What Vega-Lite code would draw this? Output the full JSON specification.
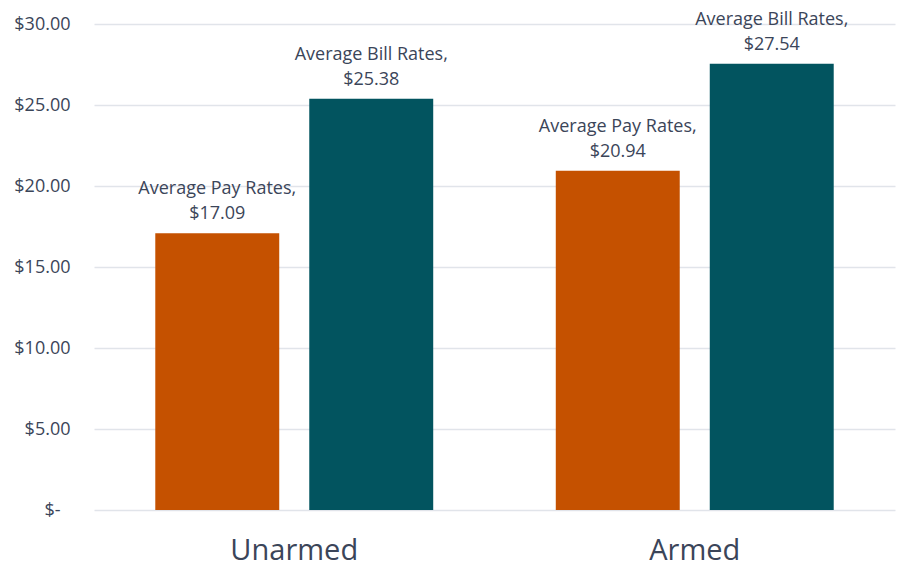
{
  "$schema": "https://vega.github.io/schema/vega-lite/v6.json",
  "autosize": {"type": "none"},
  "width": 801,
  "height": 486,
  "padding": {"left": 94, "top": 24, "right": 4, "bottom": 57},
  "background": "white",
  "config": {
    "font": "Open Sans",
    "view": {"stroke": null}
  },
  "data": {
    "values": [
      {"group": "Unarmed", "series": "Average Pay Rates", "value": 17.09},
      {"group": "Unarmed", "series": "Average Bill Rates", "value": 25.38},
      {"group": "Armed", "series": "Average Pay Rates", "value": 20.94},
      {"group": "Armed", "series": "Average Bill Rates", "value": 27.54}
    ]
  },
  "transform": [
    {"calculate": "[datum.series + ',', '$' + format(datum.value, '.2f')]", "as": "label"}
  ],
  "encoding": {
    "x": {
      "field": "group",
      "type": "nominal",
      "sort": ["Unarmed", "Armed"],
      "scale": {"paddingInner": 0, "paddingOuter": 0},
      "axis": {
        "title": null,
        "labelAngle": 0,
        "domain": false,
        "ticks": false,
        "labelFontSize": 29,
        "labelColor": "#3b4559",
        "labelPadding": 26
      }
    },
    "xOffset": {
      "field": "series",
      "type": "nominal",
      "sort": ["Average Pay Rates", "Average Bill Rates"],
      "scale": {"paddingInner": 0.195, "paddingOuter": 0.398}
    },
    "y": {
      "field": "value",
      "type": "quantitative",
      "scale": {"domain": [0, 30], "nice": false},
      "axis": {
        "title": null,
        "values": [0, 5, 10, 15, 20, 25, 30],
        "labelExpr": "datum.value == 0 ? '$-' : '$' + format(datum.value, '.2f')",
        "domain": false,
        "ticks": false,
        "grid": true,
        "gridColor": "#e1e4ea",
        "gridWidth": 1.3,
        "labelFontSize": 18,
        "labelColor": "#3b4559",
        "labelPadding": {"condition": {"test": "datum.value == 0", "value": 34}, "value": 24}
      }
    }
  },
  "layer": [
    {
      "mark": {"type": "bar"},
      "encoding": {
        "color": {
          "field": "series",
          "type": "nominal",
          "scale": {"domain": ["Average Pay Rates", "Average Bill Rates"], "range": ["#c55100", "#02545f"]},
          "legend": null
        }
      }
    },
    {
      "mark": {"type": "text", "baseline": "bottom", "dy": -35, "fontSize": 18, "lineHeight": 25, "color": "#3b4559"},
      "encoding": {
        "text": {"field": "label"}
      }
    }
  ]
}
